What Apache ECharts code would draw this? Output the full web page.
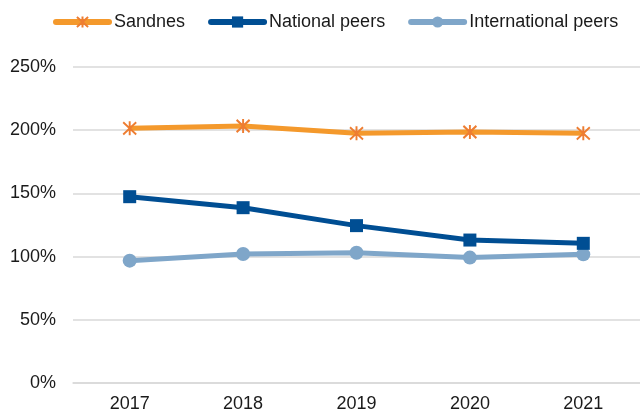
<!DOCTYPE html>
<html>
<head>
<meta charset="utf-8">
<script src="https://cdn.jsdelivr.net/npm/echarts@6/dist/echarts.min.js"></script>
<style>
  html, body { margin: 0; padding: 0; background: #fff; }
  #chart { width: 640px; height: 414px; }
</style>
</head>
<body>
<div id="chart"></div>
<script>
// Years on the x axis
const years = ['2017', '2018', '2019', '2020', '2021'];

// Ratios in percent
const sandnes = [201.5, 203.3, 197.5, 198.6, 197.5];
const nationalPeers = [147.4, 138.7, 124.5, 113.1, 110.5];
const internationalPeers = [96.8, 102.0, 103.1, 99.2, 101.8];

// Y axis tick range (percent)
const yMin = 0;
const yMax = 250;
const yStep = 50;

const FONT = '"Liberation Sans", Arial, sans-serif';
const asterisk = 'path://M0,0L12,14M12,0L0,14M6,-1L6,15';

const chart = echarts.init(document.getElementById('chart'), null, { renderer: 'canvas' });

chart.setOption({
  animation: false,
  backgroundColor: '#ffffff',
  legend: {
    left: 53,
    top: 13,
    padding: 0,
    itemWidth: 53,
    itemHeight: 14,
    itemGap: 23,
    lineStyle: { width: 6, cap: 'round' },
    textStyle: { fontFamily: FONT, fontSize: 18, color: '#1a1a1a' },
    data: ['Sandnes', 'National peers', 'International peers']
  },
  grid: { left: 73, right: 0, top: 67, bottom: 31, containLabel: false },
  xAxis: {
    type: 'category',
    data: years,
    boundaryGap: true,
    axisLine: { show: true, lineStyle: { color: '#d9d9d9', width: 1.5 } },
    axisTick: { show: false },
    axisLabel: { fontFamily: FONT, fontSize: 18, color: '#1a1a1a', margin: 12 }
  },
  yAxis: {
    type: 'value',
    min: yMin,
    max: yMax,
    interval: yStep,
    axisLine: { show: false },
    axisTick: { show: false },
    axisLabel: {
      fontFamily: FONT, fontSize: 18, color: '#1a1a1a', margin: 17,
      formatter: v => v + '%'
    },
    splitLine: { lineStyle: { color: '#d9d9d9', width: 1.5 } }
  },
  series: [
    {
      name: 'Sandnes',
      type: 'line',
      data: sandnes,
      symbol: asterisk,
      symbolSize: [13, 14],
      lineStyle: { color: '#f4992c', width: 5 },
      itemStyle: { color: 'rgba(0,0,0,0)', borderColor: '#ee7d31', borderWidth: 2 },
      z: 3
    },
    {
      name: 'National peers',
      type: 'line',
      data: nationalPeers,
      symbol: 'rect',
      symbolSize: 13,
      lineStyle: { color: '#004e93', width: 5 },
      itemStyle: { color: '#004e93', borderWidth: 0 },
      z: 2
    },
    {
      name: 'International peers',
      type: 'line',
      data: internationalPeers,
      symbol: 'circle',
      symbolSize: 14,
      lineStyle: { color: '#7fa6c9', width: 5 },
      itemStyle: { color: '#7fa6c9', borderWidth: 0 },
      z: 1
    }
  ]
});
</script>
</body>
</html>
